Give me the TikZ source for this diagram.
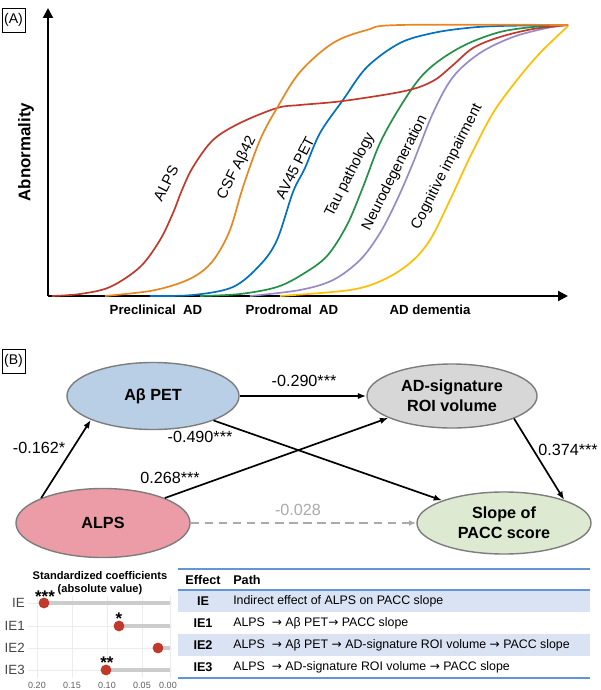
\documentclass[tikz,border=0pt]{standalone}
\usepackage{fontspec}
\setmainfont{Liberation Sans}
\newfontfamily\arrowfont{DejaVu Sans}
\newcommand{\pathto}{{\arrowfont\fontsize{8.6}{10}\selectfont →}}
\usepackage{tikz}
\usetikzlibrary{shapes.geometric, arrows.meta, positioning}
\definecolor{AlpsRed}{RGB}{192,57,43}
\definecolor{CsfOrange}{RGB}{232,134,34}
\definecolor{PetBlue}{RGB}{0,112,192}
\definecolor{TauGreen}{RGB}{34,145,70}
\definecolor{NeuroPurple}{RGB}{150,138,200}
\definecolor{CogYellow}{RGB}{255,190,0}
\definecolor{AbetaFill}{RGB}{185,207,230}
\definecolor{AlpsFill}{RGB}{236,156,166}
\definecolor{RoiFill}{RGB}{215,215,215}
\definecolor{PaccFill}{RGB}{221,234,209}
\definecolor{EllipseEdge}{RGB}{125,125,125}
\definecolor{DashGray}{RGB}{170,170,170}
\definecolor{RuleBlue}{RGB}{98,148,218}
\definecolor{RowBlue}{RGB}{218,227,243}
\definecolor{BarGray}{RGB}{204,204,204}
\definecolor{GridGray}{RGB}{236,236,236}
\definecolor{TickGray}{RGB}{95,95,95}
\definecolor{LabelGray}{RGB}{70,70,70}

\begin{document}
\begin{tikzpicture}[
  x=0.025cm, y=-0.025cm,
  font=\fontsize{11.5}{13.5}\selectfont,
  tag/.style={draw, line width=0.6pt, minimum width=0.575cm, minimum height=0.6cm,
              inner sep=0pt, font=\fontsize{10}{12}\selectfont},
  axis/.style={line width=1.4pt, -{Triangle[length=7pt, width=7pt]}},
  curve/.style={line width=1.2pt, smooth, tension=0.55},
  curvelabel/.style={rotate=63, inner sep=0pt, font=\fontsize{10.5}{12}\selectfont},
  stage/.style={inner sep=0pt, font=\bfseries\fontsize{9.4}{11}\selectfont},
  var/.style={ellipse, draw=EllipseEdge, line width=1pt, inner sep=0pt,
              align=center, font=\bfseries\fontsize{11.5}{14}\selectfont},
  arrow/.style={-{Latex[length=6pt, width=4.5pt]}, line width=1.2pt},
  dasharrow/.style={-{Latex[length=5pt, width=4pt]}, line width=1.1pt, DashGray,
                    dash pattern=on 6pt off 4pt},
  coef/.style={inner sep=0pt, font=\fontsize{11.5}{13}\selectfont},
  rowname/.style={anchor=east, inner sep=0pt, text=LabelGray,
                  font=\fontsize{9.5}{10}\selectfont},
  tick/.style={inner sep=0pt, text=TickGray, font=\fontsize{6.4}{7}\selectfont},
  stars/.style={inner sep=0pt, font=\bfseries\fontsize{12}{12}\selectfont},
  bar/.style={BarGray, line width=3pt},
  dot/.style={circle, fill=AlpsRed, minimum size=0.27cm, inner sep=0pt},
  effcell/.style={inner sep=0pt, font=\bfseries\fontsize{9}{11}\selectfont},
  pathcell/.style={anchor=west, inner sep=0pt, font=\fontsize{8.8}{10}\selectfont},
]
\useasboundingbox (0,0) rectangle (600,690);

% (A)
\node[tag] (tagA) at (13.5,20) {(A)};
\draw[axis] (48,296) -- (48,8);
\draw[axis] (48,296) -- (568,296);
\node[rotate=90, inner sep=0pt, font=\bfseries\fontsize{12}{14}\selectfont] (ylab) at (26,152) {Abnormality};
\node[stage] (preclin) at (156,310) {Preclinical~ AD};
\node[stage] (prodrom) at (292,310) {Prodromal~ AD};
\node[stage] (dement) at (430,310) {AD dementia};

\draw[curve, CogYellow] plot coordinates {(280,296) (350,290) (383,280) (410,263) (430,240)
  (450,200) (470,157) (493,113) (517,80) (540,53) (568,26)};
\draw[curve, NeuroPurple] plot coordinates {(250,296) (300,290) (333,280) (360,260) (380,233)
  (397,200) (413,163) (433,113) (453,77) (480,53) (513,37) (547,28) (568,25)};
\draw[curve, TauGreen] plot coordinates {(200,296) (240,294) (277,287) (303,274) (327,256)
  (347,225) (363,187) (380,143) (400,107) (420,78) (440,60) (467,44) (500,32) (533,27) (568,25)};
\draw[curve, PetBlue] plot coordinates {(150,296) (193,295) (233,287) (260,265) (277,240)
  (293,192) (305,168) (320,133) (343,100) (367,67) (400,43) (433,33) (467,28) (500,26) (568,25)};
\draw[curve, AlpsRed] plot coordinates {(52,296) (80,294) (110,287) (140,267) (160,240)
  (173,213) (182,190) (193,167) (213,140) (240,123) (277,108) (300,105) (343,101) (405,91)
  (433,81) (452,66) (473,48) (500,37) (533,29) (568,25)};
\draw[curve, CsfOrange] plot coordinates {(105,296) (150,291) (180,283) (200,273) (215,258)
  (230,230) (243,187) (260,140) (277,108) (300,72) (333,43) (367,30) (400,25) (568,25)};

\node[curvelabel] (lalps) at (166,183) {ALPS};
\node[curvelabel] (lcsf) at (237,168) {CSF Aβ42};
\node[curvelabel] (lav45) at (295,168) {AV45 PET};
\node[curvelabel] (ltau) at (350,175) {Tau pathology};
\node[curvelabel] (lneuro) at (395,173) {Neurodegeneration};
\node[curvelabel] (lcog) at (447,167) {Cognitive impairment};

% (B)
\node[tag] (tagB) at (13.5,361) {(B)};
\node[var, fill=AbetaFill, minimum width=4.3cm, minimum height=1.675cm] (abeta) at (153,396) {Aβ PET};
\node[var, fill=AlpsFill, minimum width=4.35cm, minimum height=1.725cm] (alps) at (103,523) {ALPS};
\node[var, fill=RoiFill, minimum width=4.25cm, minimum height=1.6cm] (roi) at (452,396) {AD-signature\\ROI volume};
\node[var, fill=PaccFill, minimum width=4.35cm, minimum height=1.55cm] (pacc) at (504,523) {Slope of\\PACC score};

\draw[arrow] (alps.158) -- (abeta.201);
\draw[arrow] (abeta) -- (roi);
\draw[arrow] (abeta.338) -- (pacc.160);
\draw[arrow] (alps.22.6) -- (roi.199.5);
\draw[arrow] (roi.340) -- (pacc.21);
\draw[dasharrow] (alps) -- (pacc);

\node[coef] (c1) at (39,448) {-0.162*};
\node[coef] (c2) at (304,381) {-0.290***};
\node[coef] (c3) at (200,437) {-0.490***};
\node[coef] (c4) at (170,478) {0.268***};
\node[coef] (c5) at (568,450) {0.374***};
\node[coef, text=DashGray] (c6) at (298,510) {-0.028};

% lollipop
\node[inner sep=0pt, align=center, font=\bfseries\fontsize{7.9}{9.4}\selectfont] (ltitle) at (100,583)
  {Standardized coefficients\\(absolute value)};
\draw[GridGray, line width=0.4pt] (37,596) -- (37,678) (72,596) -- (72,678) (107,596) -- (107,678)
  (142,596) -- (142,678) (170,596) -- (170,678);
\draw[GridGray, line width=0.5pt] (28,603) -- (172,603) (28,626) -- (172,626)
  (28,648) -- (172,648) (28,670) -- (172,670);
\draw[bar] (44,603) -- (170,603);
\draw[bar] (119,626) -- (170,626);
\draw[bar] (158,648) -- (170,648);
\draw[bar] (106,670) -- (170,670);
\node[dot] (dIE) at (44,603) {};
\node[dot] (dIE1) at (119,626) {};
\node[dot] (dIE2) at (158,648) {};
\node[dot] (dIE3) at (106,670) {};
\node[stars] (sIE) at (45,597) {***};
\node[stars] (sIE1) at (119,619) {*};
\node[stars] (sIE3) at (107,663) {**};
\node[rowname] (rIE) at (25,603) {IE};
\node[rowname] (rIE1) at (25,626) {IE1};
\node[rowname] (rIE2) at (25,648) {IE2};
\node[rowname] (rIE3) at (25,670) {IE3};
\node[tick] (t20) at (37,685) {0.20};
\node[tick] (t15) at (72,685) {0.15};
\node[tick] (t10) at (107,685) {0.10};
\node[tick] (t05) at (142,685) {0.05};
\node[tick] (t00) at (168,685) {0.00};

% table
\fill[RowBlue] (178,590) rectangle (590,612);
\fill[RowBlue] (178,634) rectangle (590,656);
\draw[RuleBlue, line width=0.9pt] (178,569) -- (590,569);
\draw[RuleBlue, line width=0.8pt] (178,590) -- (590,590);
\draw[RuleBlue, line width=1.6pt] (178,678) -- (590,678);
\node[effcell] (hEff) at (203,580) {Effect};
\node[effcell, anchor=west] (hPath) at (233,580) {Path};
\node[effcell] (eIE) at (203,601) {IE};
\node[effcell] (eIE1) at (203,623) {IE1};
\node[effcell] (eIE2) at (203,645) {IE2};
\node[effcell] (eIE3) at (203,667) {IE3};
\node[pathcell] (pIE) at (233,601) {Indirect effect of ALPS on PACC slope};
\node[pathcell] (pIE1) at (233,623) {ALPS~ \pathto{} Aβ PET\pathto{} PACC slope};
\node[pathcell] (pIE2) at (233,645) {ALPS~ \pathto{} Aβ PET \pathto{} AD-signature ROI volume \pathto{} PACC slope};
\node[pathcell] (pIE3) at (233,667) {ALPS~ \pathto{} AD-signature ROI volume \pathto{} PACC slope};

\end{tikzpicture}
\end{document}
